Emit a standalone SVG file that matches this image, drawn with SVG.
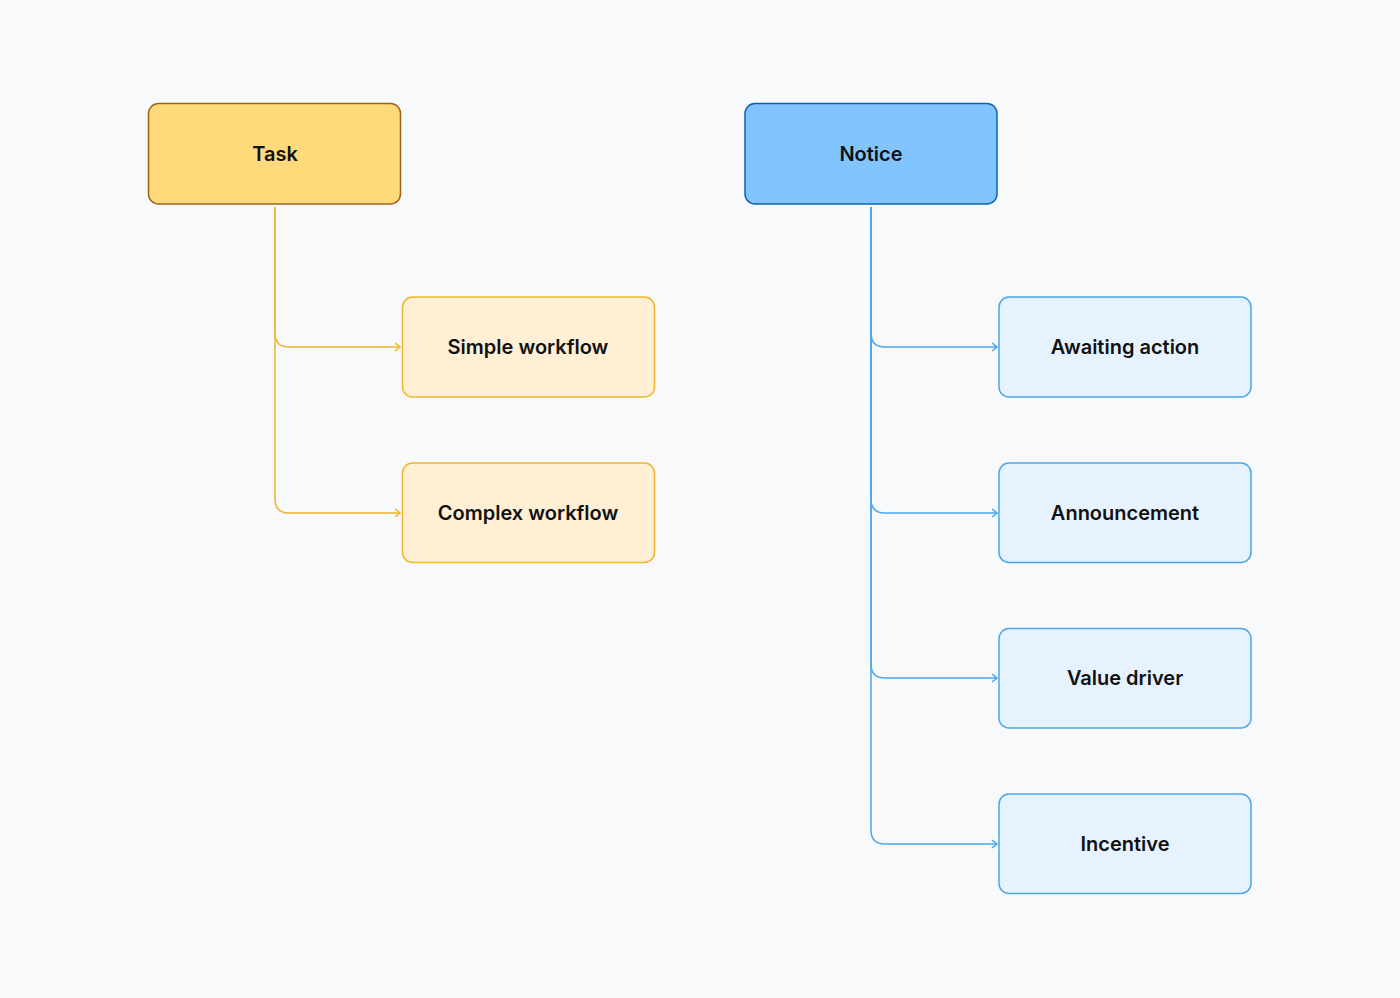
<svg xmlns="http://www.w3.org/2000/svg" width="1400" height="998" viewBox="0 0 1400 998">
<style>
text{font-family:Inter,"Noto Sans","Liberation Sans",sans-serif;font-size:20px;font-weight:600;fill:#111;text-anchor:middle;dominant-baseline:central}
.tp{fill:#ffd97a;stroke:#9c6418;stroke-width:1.5}
.np{fill:#82c4ff;stroke:#0b63b8;stroke-width:1.5}
.tc{fill:#ffefd4;stroke:#f0b52c;stroke-width:1.5}
.nc{fill:#e6f3ff;stroke:#4ca6ea;stroke-width:1.5}
.cy{fill:none;stroke:#f0b52c;stroke-width:1.5}
.cb{fill:none;stroke:#4ca6ea;stroke-width:1.5}
</style>
<defs>
<marker id="ay" viewBox="0 0 10 10" refX="9" refY="5" markerWidth="10" markerHeight="10" markerUnits="userSpaceOnUse" orient="auto"><path d="M4 1L9 5L4 9" fill="none" stroke="#f0b52c" stroke-width="1.5"/></marker>
<marker id="ab" viewBox="0 0 10 10" refX="9" refY="5" markerWidth="10" markerHeight="10" markerUnits="userSpaceOnUse" orient="auto"><path d="M4 1L9 5L4 9" fill="none" stroke="#4ca6ea" stroke-width="1.5"/></marker>
</defs>
<rect width="1400" height="998" fill="#f7f9fb"/>
<g id="connectors">
<path class="cy" d="M275 207V333Q275 347 289 347H400" marker-end="url(#ay)"/>
<path class="cy" d="M275 207V499Q275 513 289 513H400" marker-end="url(#ay)"/>
<path class="cb" d="M871 207V333Q871 347 885 347H997" marker-end="url(#ab)"/>
<path class="cb" d="M871 207V499Q871 513 885 513H997" marker-end="url(#ab)"/>
<path class="cb" d="M871 207V664Q871 678 885 678H997" marker-end="url(#ab)"/>
<path class="cb" d="M871 207V830Q871 844 885 844H997" marker-end="url(#ab)"/>
</g>
<g id="task"><rect class="tp" x="148.5" y="103.5" width="252" height="100.5" rx="10"/><text x="275" y="154">Task</text></g>
<g id="notice"><rect class="np" x="745" y="103.5" width="252" height="100.5" rx="10"/><text x="871" y="154">Notice</text></g>
<g id="simple"><rect class="tc" x="402.5" y="297" width="252" height="100" rx="10"/><text x="528" y="347">Simple workflow</text></g>
<g id="complex"><rect class="tc" x="402.5" y="463" width="252" height="99.5" rx="10"/><text x="528" y="513">Complex workflow</text></g>
<g id="awaiting"><rect class="nc" x="999" y="297" width="252" height="100" rx="10"/><text x="1125" y="347">Awaiting action</text></g>
<g id="announcement"><rect class="nc" x="999" y="463" width="252" height="99.5" rx="10"/><text x="1125" y="513">Announcement</text></g>
<g id="value"><rect class="nc" x="999" y="628.5" width="252" height="99.5" rx="10"/><text x="1125" y="678">Value driver</text></g>
<g id="incentive"><rect class="nc" x="999" y="794" width="252" height="99.5" rx="10"/><text x="1125" y="844">Incentive</text></g>
</svg>
